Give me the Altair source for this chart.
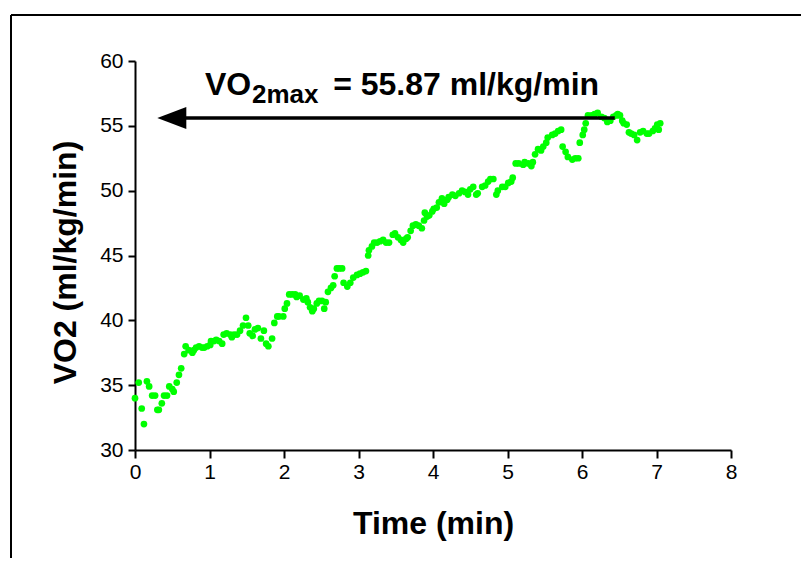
import altair as alt
import pandas as pd

# ---- data ----
time_min = [
    0.00, 0.05, 0.09, 0.12, 0.16, 0.19, 0.23, 0.27, 0.30, 0.32, 0.36, 0.39, 0.43, 0.46, 0.50, 0.52,
    0.56, 0.59, 0.62, 0.66, 0.68, 0.72, 0.77, 0.79, 0.82, 0.86, 0.90, 0.93, 0.97, 1.01, 1.02, 1.06,
    1.09, 1.13, 1.17, 1.19, 1.23, 1.28, 1.30, 1.33,
    1.37, 1.41, 1.45, 1.49, 1.52, 1.54, 1.58, 1.61, 1.65, 1.69, 1.73, 1.76, 1.79, 1.84, 1.87, 1.91,
    1.93, 1.99, 2.01, 2.04, 2.07, 2.11, 2.15, 2.17, 2.21, 2.26, 2.30, 2.32, 2.35, 2.38, 2.40, 2.44,
    2.47, 2.51, 2.54, 2.56, 2.59, 2.63, 2.66, 2.68, 2.71, 2.74, 2.78, 2.80,
    2.85, 2.89, 2.93, 2.98, 3.02, 3.06, 3.10, 3.13, 3.14, 3.18, 3.21, 3.25, 3.29, 3.33, 3.37, 3.41,
    3.46, 3.49, 3.53, 3.57, 3.60, 3.64, 3.66, 3.70, 3.73, 3.77, 3.81, 3.85, 3.88, 3.89, 3.92, 3.95,
    3.99, 4.01, 4.05, 4.08, 4.12, 4.15, 4.19, 4.21, 4.26, 4.30,
    4.35, 4.39, 4.43, 4.47, 4.50, 4.54, 4.58, 4.60, 4.66, 4.70, 4.74, 4.77, 4.81, 4.85, 4.87, 4.93,
    4.97, 5.01, 5.05, 5.07, 5.11, 5.15, 5.21, 5.23, 5.28, 5.32, 5.34, 5.37, 5.41, 5.45, 5.48, 5.52,
    5.54, 5.60, 5.64, 5.68, 5.72,
    5.74, 5.78, 5.81, 5.87, 5.91, 5.95, 5.97, 6.01, 6.03, 6.05, 6.08, 6.13, 6.17, 6.21, 6.26, 6.30,
    6.34, 6.38, 6.42, 6.46, 6.48, 6.51, 6.54, 6.56, 6.60, 6.63, 6.66, 6.70, 6.74, 6.78, 6.82, 6.87,
    6.90, 6.95, 6.98, 7.01, 7.03, 7.05,
]
vo2 = [
    34.0, 35.2, 33.2, 32.0, 35.3, 34.9, 34.2, 34.2, 33.1, 33.1, 33.6, 34.2, 34.2, 34.9, 34.7, 34.5,
    35.2, 35.8, 36.3, 37.4, 38.0, 37.7, 37.5, 37.7, 37.9, 38.0, 37.9, 37.9, 38.0, 38.1, 38.4, 38.4,
    38.5, 38.4, 38.2, 38.9, 39.0, 38.9, 38.7, 38.9,
    38.9, 39.2, 39.6, 40.2, 39.6, 39.0, 38.8, 39.3, 39.4, 38.6, 39.2, 38.2, 38.0, 38.6, 39.8, 40.3,
    40.3, 40.3, 40.9, 41.3, 42.0, 42.0, 42.0, 41.8, 41.9, 41.6, 41.7, 41.4, 41.0, 40.7, 40.9, 41.3,
    41.5, 41.5, 40.9, 41.4, 42.2, 42.5, 42.7, 43.4, 44.0, 44.0, 44.0, 42.9,
    42.6, 42.9, 43.3, 43.5, 43.6, 43.7, 43.8, 45.0, 45.4, 45.7, 46.0, 46.0, 46.1, 46.2, 46.0, 46.0,
    46.6, 46.7, 46.4, 46.2, 46.0, 46.3, 46.4, 46.9, 47.3, 47.4, 47.3, 47.1, 47.7, 48.3, 48.0, 48.1,
    48.4, 48.6, 48.7, 49.1, 49.4, 49.0, 49.3, 49.5, 49.7, 49.6,
    49.8, 50.0, 49.9, 49.7, 50.1, 50.3, 49.7, 49.8, 50.3, 50.4, 50.7, 50.9, 50.9, 49.7, 50.0, 50.3,
    50.3, 50.6, 50.7, 51.0, 52.1, 52.1, 52.0, 52.2, 52.1, 51.9, 52.2, 52.8, 53.2, 53.1, 53.4, 53.7,
    54.1, 54.3, 54.4, 54.6, 54.7,
    53.4, 53.0, 52.6, 52.4, 52.5, 52.5, 53.7, 54.3, 54.7, 55.2, 55.8, 55.8, 55.9, 56.0, 55.7, 55.6,
    55.3, 55.4, 55.7, 55.8, 55.9, 55.8, 55.4, 55.2, 55.1, 54.5, 54.4, 54.3, 53.9, 54.5, 54.6, 54.4,
    54.4, 54.6, 54.8, 55.1, 54.7, 55.2,
]

x_ticks = [0, 1, 2, 3, 4, 5, 6, 7, 8]
y_ticks = [30, 35, 40, 45, 50, 55, 60]

# annotation (arrow toward the y axis and label)
arrow_from = [6.44]
arrow_to = [0.50]
arrow_head_x = [0.494]
arrow_level = [55.6]
ann_text = ["VO", "2max", "= 55.87 ml/kg/min"]
ann_x = [0.94, 1.57, 2.66]
ann_y = [57.37, 56.75, 57.37]
ann_size = [32, 26, 32]

W, H = 596, 389
FONT = "Liberation Sans"

df = pd.DataFrame({"t": time_min, "vo2": vo2})
xs = alt.Scale(domain=[0, 8], nice=False, zero=False)
ys = alt.Scale(domain=[30, 60], nice=False, zero=False)

points = alt.Chart(df).mark_circle(size=45, color="#00FF00", opacity=1).encode(
    x=alt.X("t:Q", scale=xs, axis=alt.Axis(
        values=x_ticks, title="Time (min)", tickSize=8, labelPadding=3, labelFlush=False,
        titleBaseline="alphabetic", titleY=83, format="d")),
    y=alt.Y("vo2:Q", scale=ys, axis=alt.Axis(
        values=y_ticks, title="VO2 (ml/kg/min)", tickSize=7, labelPadding=5, labelFlush=False,
        titleBaseline="alphabetic", titleX=-60, titleY=201, format="d")),
)

arrow_df = pd.DataFrame({"x": arrow_from, "x2": arrow_to, "y": arrow_level})
arrow_line = alt.Chart(arrow_df).mark_rule(color="black", strokeWidth=3.5).encode(
    x=alt.X("x:Q", scale=xs), x2="x2:Q", y=alt.Y("y:Q", scale=ys))

head_df = pd.DataFrame({"x": arrow_head_x, "y": arrow_level})
arrow_head = alt.Chart(head_df).mark_point(
    shape="M -1 0 L 1 -0.76 L 1 0.76 Z", filled=True, color="black", opacity=1, size=841
).encode(x=alt.X("x:Q", scale=xs), y=alt.Y("y:Q", scale=ys))

ann_df = pd.DataFrame({"text": ann_text, "x": ann_x, "y": ann_y, "fs": ann_size})
ann = alt.Chart(ann_df).mark_text(
    font=FONT, fontWeight="bold", align="left", baseline="alphabetic", color="black"
).encode(
    x=alt.X("x:Q", scale=xs), y=alt.Y("y:Q", scale=ys),
    text="text:N", size=alt.Size("fs:Q", scale=None, legend=None))

frame_df = pd.DataFrame({"a": [0]})
frame_left = alt.Chart(frame_df).mark_rule(color="black", strokeWidth=2).encode(
    x=alt.value(-124), x2=alt.value(-124), y=alt.value(-46), y2=alt.value(H + 200))
frame_top = alt.Chart(frame_df).mark_rule(color="black", strokeWidth=2).encode(
    x=alt.value(-124), x2=alt.value(W + 200), y=alt.value(-46), y2=alt.value(-46))

chart = alt.layer(frame_left, frame_top, points, arrow_line, arrow_head, ann).properties(
    width=W, height=H,
    autosize=alt.AutoSizeParams(type="none"),
    padding={"left": 127, "top": 53, "right": 70, "bottom": 108},
).configure_view(strokeOpacity=0).configure_axis(
    grid=False, domainColor="black", domainWidth=2, tickColor="black", tickWidth=2,
    labelFont=FONT, labelFontSize=21, labelColor="black",
    titleFont=FONT, titleFontSize=32, titleFontWeight="bold", titleColor="black",
)

chart.save("out.html", embed_options={"renderer": "svg", "actions": False})
